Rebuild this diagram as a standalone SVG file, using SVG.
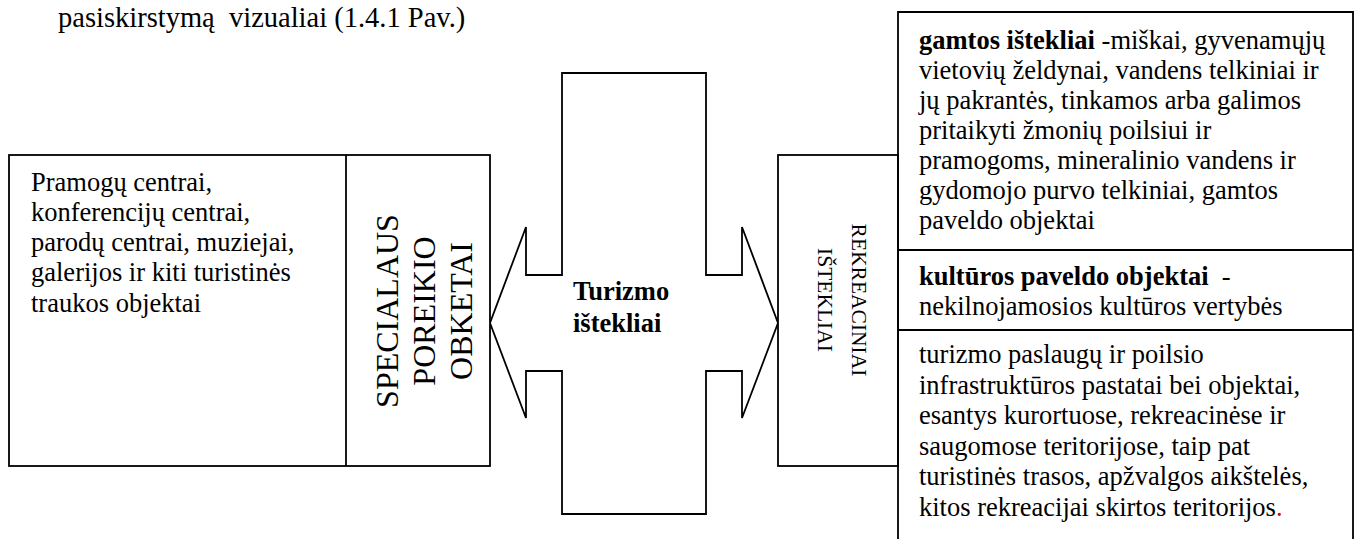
<svg xmlns="http://www.w3.org/2000/svg" width="1359" height="539" viewBox="0 0 1359 539">
  <style>
    .box { fill: #fff; stroke: #000; stroke-width: 1.8; }
    .ln { fill: none; stroke: #000; stroke-width: 1.8; }
    text { font-family: "Liberation Serif", "Times New Roman", serif; fill: #000; }
    .body { font-size: 26.5px; }
    .cap { font-size: 28.5px; white-space: pre; }
    .b { font-weight: bold; }
    .vert-l { font-size: 32px; }
    .vert-r { font-size: 21.5px; }
  </style>
  <rect width="1359" height="539" fill="#fff"/>

  <!-- caption line above the figure -->
  <text class="cap" x="58" y="27">pasiskirstymą  vizualiai (1.4.1 Pav.)</text>

  <!-- central double arrow -->
  <g id="center">
    <path class="box" d="M562,73 L562,275 L526,275 L526,227 L490,323 L526,418 L526,371 L562,371 L562,514 L706,514 L706,371 L742,371 L742,418 L778,323 L742,227 L742,275 L706,275 L706,73 Z"/>
    <text class="body b" x="573" y="300">Turizmo</text>
    <text class="body b" x="573" y="332">ištekliai</text>
  </g>

  <!-- left: special-purpose objects -->
  <g id="special">
    <rect class="box" x="9" y="155" width="481" height="311"/>
    <line class="ln" x1="346" y1="155" x2="346" y2="466"/>
    <text class="body">
      <tspan x="31" y="190.5">Pramogų centrai,</tspan>
      <tspan x="31" y="220.8">konferencijų centrai,</tspan>
      <tspan x="31" y="251">parodų centrai, muziejai,</tspan>
      <tspan x="31" y="281.3">galerijos ir kiti turistinės</tspan>
      <tspan x="31" y="311.6">traukos objektai</tspan>
    </text>
    <g class="vert-l" text-anchor="middle">
      <text transform="translate(398,311) rotate(-90)">SPECIALAUS</text>
      <text transform="translate(435,311) rotate(-90)">POREIKIO</text>
      <text transform="translate(472,311) rotate(-90)">OBKETAI</text>
    </g>
  </g>

  <!-- right: recreational resources -->
  <g id="recreation">
    <rect class="box" x="778" y="155" width="120" height="311"/>
    <g class="vert-r" text-anchor="middle">
      <text transform="translate(852,300) rotate(90)">REKREACINIAI</text>
      <text transform="translate(818,300) rotate(90)">IŠTEKLIAI</text>
    </g>
  </g>

  <g id="resources">
    <path class="ln" d="M898,545 L898,12 L1353,12 L1353,545"/>
    <line class="ln" x1="898" y1="250" x2="1353" y2="250"/>
    <line class="ln" x1="898" y1="330" x2="1353" y2="330"/>
    <text class="body">
      <tspan x="919" y="49"><tspan class="b">gamtos ištekliai</tspan> -miškai, gyvenamųjų</tspan>
      <tspan x="919" y="79">vietovių želdynai, vandens telkiniai ir</tspan>
      <tspan x="919" y="109">jų pakrantės, tinkamos arba galimos</tspan>
      <tspan x="919" y="139">pritaikyti žmonių poilsiui ir</tspan>
      <tspan x="919" y="169">pramogoms, mineralinio vandens ir</tspan>
      <tspan x="919" y="199">gydomojo purvo telkiniai, gamtos</tspan>
      <tspan x="919" y="229">paveldo objektai</tspan>
    </text>
    <text class="body" style="white-space:pre">
      <tspan x="919" y="285"><tspan class="b">kultūros paveldo objektai</tspan>  -</tspan>
      <tspan x="919" y="315">nekilnojamosios kultūros vertybės</tspan>
    </text>
    <text class="body">
      <tspan x="919" y="363">turizmo paslaugų ir poilsio</tspan>
      <tspan x="919" y="393.5">infrastruktūros pastatai bei objektai,</tspan>
      <tspan x="919" y="424">esantys kurortuose, rekreacinėse ir</tspan>
      <tspan x="919" y="454.5">saugomose teritorijose, taip pat</tspan>
      <tspan x="919" y="485">turistinės trasos, apžvalgos aikštelės,</tspan>
      <tspan x="919" y="515.5">kitos rekreacijai skirtos teritorijos<tspan fill="#e00000">.</tspan></tspan>
    </text>
  </g>
</svg>
